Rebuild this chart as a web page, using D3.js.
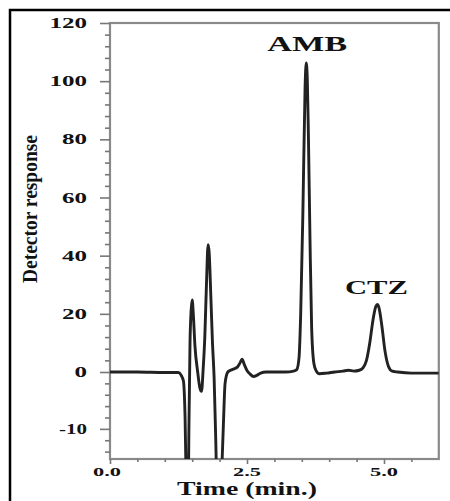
<!DOCTYPE html>
<html>
<head>
<meta charset="utf-8">
<script src="https://cdn.jsdelivr.net/npm/d3@7"></script>
<style>
  html, body { margin: 0; padding: 0; background: #fff; }
  text { font-family: "Liberation Serif", "Times New Roman", serif; font-weight: bold; fill: #121212; }
</style>
</head>
<body>
<svg id="chart"></svg>
<script>
// Chromatogram trace (time in min, detector response)
const times = [
  0, 0.5, 1.0, 1.25, 1.30, 1.34, 1.37, 1.40, 1.42, 1.44, 1.46, 1.48, 1.50, 1.52, 1.55,
  1.60, 1.64, 1.67, 1.70, 1.73, 1.76, 1.79, 1.81, 1.84, 1.87, 1.90, 1.93, 1.96, 2.00,
  2.03, 2.07, 2.10, 2.15, 2.20, 2.28, 2.33, 2.38, 2.41, 2.45, 2.50, 2.55, 2.62, 2.68,
  2.75, 2.85, 3.00, 3.20, 3.35, 3.41, 3.45, 3.48, 3.52, 3.56, 3.58, 3.60, 3.62, 3.65,
  3.68, 3.72, 3.76, 3.82, 3.95, 4.10, 4.25, 4.35, 4.45, 4.55, 4.62, 4.68, 4.74, 4.80,
  4.85, 4.88, 4.91, 4.96, 5.02, 5.08, 5.15, 5.25, 5.50, 5.80, 6.00
];
const response = [
  0, 0, -0.1, -0.1, -0.6, -1.6, -8, -25, -30, -10, 10, 21, 24.8, 20, 9,
  0, -2.8, -3.4, 1, 12, 30, 43.8, 41, 26, 10, -1, -12, -25, -30,
  -20, -9, -2, 0, 0.6, 1.2, 1.8, 3.4, 4.4, 2.6, 0.5, -0.3, -0.8, -0.6,
  -0.2, 0, 0, 0, 0.3, 0.9, 5, 20, 55, 98, 106.3, 101, 82, 45,
  15, 3, 0.5, -0.3, -0.2, 0, 0.3, 0.6, 0.3, 0.6, 1.5, 4, 10, 18,
  22.5, 23.2, 22, 16, 7, 2, 0.3, 0, -0.2, -0.2, -0.2
];

const yMajor = [-10, 0, 20, 40, 60, 80, 100, 120];
const xMajor = [0, 2.5, 5.0];
const xLabels = ["0.0", "2.5", "5.0"];
const peaks = [
  { name: "AMB", t: 3.58, v: 106.3 },
  { name: "CTZ", t: 4.88, v: 23.2 }
];

const width = 450;
const height = 501;
const plotLeft = 110, plotRight = 438.8, plotTop = 23, plotBottom = 459;

const svg = d3.select("#chart")
  .attr("width", width)
  .attr("height", height);

// outer box of the figure (only left/top are visible in the crop)
svg.append("rect")
  .attr("x", 10).attr("y", 10)
  .attr("width", 600).attr("height", 600)
  .attr("fill", "none")
  .attr("stroke", "#000")
  .attr("stroke-width", 2.5);

const x = d3.scaleLinear()
  .domain([0, 6])
  .range([plotLeft, plotRight]);

// the y axis is stretched below zero in the original
const y = d3.scaleLinear()
  .domain([-15.3, 0, 120])
  .range([plotBottom, 372, plotTop]);

// frame
svg.append("rect")
  .attr("x", plotLeft).attr("y", plotTop)
  .attr("width", plotRight - plotLeft).attr("height", plotBottom - plotTop)
  .attr("fill", "none")
  .attr("stroke", "#8a8a8a")
  .attr("stroke-width", 2.2);

// y ticks
const yMinor = d3.range(-14, 0, 2).concat(d3.range(4, 120, 4))
  .filter(d => !yMajor.includes(d));

svg.append("g")
  .attr("transform", `translate(${plotLeft},0)`)
  .call(d3.axisLeft(y).tickValues(yMinor).tickSize(5).tickFormat(""))
  .call(g => g.select(".domain").remove())
  .call(g => g.selectAll("line").attr("stroke", "#777").attr("stroke-width", 1.6));

svg.append("g")
  .attr("transform", `translate(${plotLeft},0)`)
  .call(d3.axisLeft(y).tickValues(yMajor).tickSize(10).tickFormat(""))
  .call(g => g.select(".domain").remove())
  .call(g => g.selectAll("line").attr("stroke", "#777").attr("stroke-width", 1.6));

svg.append("g")
  .selectAll("text")
  .data(yMajor)
  .join("text")
  .attr("x", 87)
  .attr("y", d => y(d) + 5)
  .attr("text-anchor", "end")
  .attr("font-size", 14.5)
  .attr("textLength", d => String(d).replace("-", "").length * 12.5 + (d < 0 ? 3 : 0))
  .attr("lengthAdjust", "spacingAndGlyphs")
  .text(d => d);

// x ticks
const xMinor = d3.range(0.5, 6, 0.5).filter(d => !xMajor.includes(d));

svg.append("g")
  .attr("transform", `translate(0,${plotBottom})`)
  .call(d3.axisBottom(x).tickValues(xMinor).tickSize(3).tickFormat(""))
  .call(g => g.select(".domain").remove())
  .call(g => g.selectAll("line").attr("stroke", "#777").attr("stroke-width", 1.6));

svg.append("g")
  .attr("transform", `translate(0,${plotBottom})`)
  .call(d3.axisBottom(x).tickValues(xMajor).tickSize(5).tickFormat(""))
  .call(g => g.select(".domain").remove())
  .call(g => g.selectAll("line").attr("stroke", "#777").attr("stroke-width", 1.6));

svg.append("g")
  .selectAll("text")
  .data(xMajor)
  .join("text")
  .attr("x", d => x(d) - (d === 0 ? 3 : 0))
  .attr("y", 476)
  .attr("text-anchor", "middle")
  .attr("font-size", 12)
  .attr("textLength", 28)
  .attr("lengthAdjust", "spacingAndGlyphs")
  .text((d, i) => xLabels[i]);

// axis titles
svg.append("text")
  .attr("x", 247)
  .attr("y", 495)
  .attr("text-anchor", "middle")
  .attr("font-size", 18.5)
  .attr("textLength", 140)
  .attr("lengthAdjust", "spacingAndGlyphs")
  .text("Time (min.)");

svg.append("text")
  .attr("transform", "translate(37,209) rotate(-90)")
  .attr("text-anchor", "middle")
  .attr("font-size", 22)
  .attr("textLength", 148)
  .attr("lengthAdjust", "spacingAndGlyphs")
  .text("Detector response");

// trace
svg.append("clipPath")
  .attr("id", "plot-clip")
  .append("rect")
  .attr("x", plotLeft).attr("y", plotTop)
  .attr("width", plotRight - plotLeft).attr("height", plotBottom - plotTop);

const trace = times.map((t, i) => [t, response[i]]);

const line = d3.line()
  .x(d => x(d[0]))
  .y(d => y(d[1]))
  .curve(d3.curveMonotoneX);

svg.append("path")
  .datum(trace)
  .attr("clip-path", "url(#plot-clip)")
  .attr("fill", "none")
  .attr("stroke", "#222")
  .attr("stroke-width", 2.9)
  .attr("stroke-linejoin", "round")
  .attr("d", line);

// peak labels
svg.append("g")
  .selectAll("text")
  .data(peaks)
  .join("text")
  .attr("x", d => x(d.t) + (d.name === "AMB" ? 1 : -1))
  .attr("y", d => y(d.v) - (d.name === "AMB" ? 11.5 : 10.5))
  .attr("text-anchor", "middle")
  .attr("font-size", d => d.name === "AMB" ? 20 : 19)
  .attr("textLength", d => d.name === "AMB" ? 80 : 63)
  .attr("lengthAdjust", "spacingAndGlyphs")
  .text(d => d.name);
</script>
</body>
</html>
